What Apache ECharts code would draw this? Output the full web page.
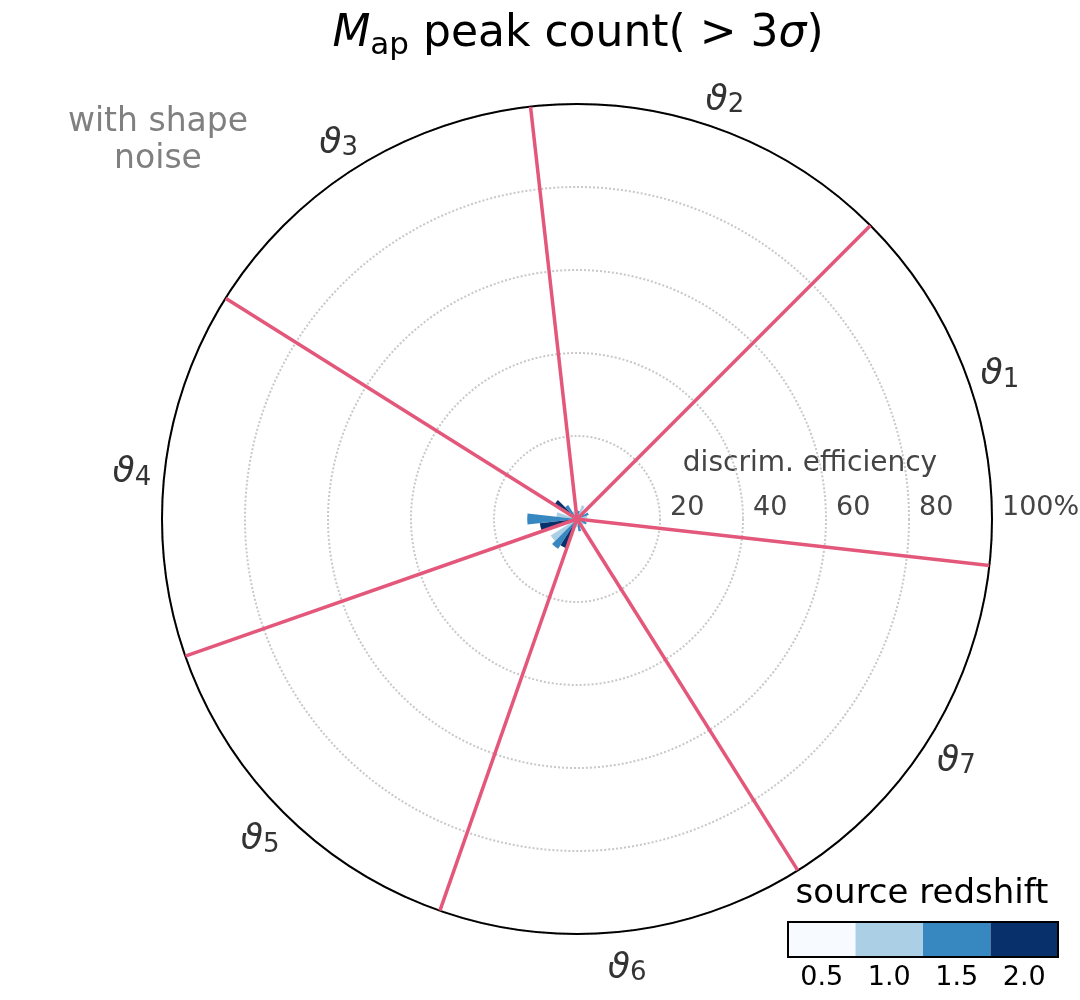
<!DOCTYPE html>
<html>
<head>
<meta charset="utf-8">
<script src="https://cdn.jsdelivr.net/npm/echarts@6/dist/echarts.min.js"></script>
<style>
html, body { margin: 0; padding: 0; background: #fff; }
#main { width: 1080px; height: 1000px; }
</style>
</head>
<body>
<div id="main"></div>
<script>
const thetaLabels = ['1', '2', '3', '4', '5', '6', '7'];
const redshifts = ['0.5', '1.0', '1.5', '2.0'];
const redshiftColors = ['#f7fbff', '#abd0e6', '#3787c0', '#08306b'];
// discrimination efficiency (%) for each theta bin, one array per source redshift
const effZ05 = [1, 1, 1, 1.5, 1.5, 1, 1];
const effZ10 = [2.5, 3.5, 2, 5, 7.5, 2, 2];
const effZ15 = [3, 2, 4, 12, 8.5, 3, 2.5];
const effZ20 = [2, 1.5, 6.5, 9, 7.5, 2, 2];
// red reference lines (angle in degrees, length in %)
const refAngles = [353.57, 45, 96.43, 147.86, 199.29, 250.71, 302.14];
const refValues = [100, 100, 100, 100, 100, 100, 100];
// theta labels sit just outside the frame (% of the label ring)
const labelRadius = [100, 100, 100, 100, 100, 100, 100];
const colorbarValues = [1, 1, 1, 1];

const FONT = 'DejaVu Sans';
const C = [577, 519];
const R = 415;
const R_LABEL = 448;
const START = 353.57;

const effByZ = [effZ05, effZ10, effZ15, effZ20];
const barCats = [];
const barData = [];
thetaLabels.forEach((t, i) => {
  redshifts.forEach((z, j) => {
    barCats.push(t + '_' + z);
    barData.push({ value: effByZ[j][i], itemStyle: { color: redshiftColors[j] } });
  });
});

const hiddenAngle = (idx, type, data) => ({
  polarIndex: idx, type: type, data: data, startAngle: START, clockwise: false,
  axisLine: { show: false }, axisTick: { show: false }, axisLabel: { show: false }, splitLine: { show: false }
});

const chart = echarts.init(document.getElementById('main'));
chart.setOption({
  backgroundColor: '#fff',
  animation: false,
  textStyle: { fontFamily: FONT },
  polar: [
    { center: C, radius: R },
    { center: C, radius: R },
    { center: C, radius: R_LABEL }
  ],
  angleAxis: [
    {
      polarIndex: 0, type: 'value', min: 0, max: 360, startAngle: 0, clockwise: false,
      axisLine: { lineStyle: { color: '#000', width: 2 } },
      axisTick: { show: false }, axisLabel: { show: false }, splitLine: { show: false }
    },
    hiddenAngle(1, 'category', barCats),
    hiddenAngle(2, 'category', thetaLabels)
  ],
  radiusAxis: [
    {
      polarIndex: 0, type: 'value', min: 0, max: 100, interval: 20,
      axisLine: { show: false }, axisTick: { show: false },
      axisLabel: {
        fontSize: 27, color: '#444', fontFamily: FONT, align: 'left', margin: -2, padding: [0, 0, 0, 10],
        formatter: v => (v === 0 ? '' : (v === 100 ? '100%' : String(v)))
      },
      splitLine: { lineStyle: { color: '#c8c8c8', type: 'dotted', width: 2 } }
    },
    { polarIndex: 1, type: 'value', min: 0, max: 100, show: false },
    { polarIndex: 2, type: 'value', min: 0, max: 100, show: false }
  ],
  grid: {
    left: 788, top: 922, width: 270, height: 35, show: true, z: 3,
    borderColor: '#000', borderWidth: 2, backgroundColor: 'transparent'
  },
  xAxis: {
    type: 'category', data: redshifts,
    axisLine: { show: false }, axisTick: { show: false }, splitLine: { show: false },
    axisLabel: { fontSize: 27, color: '#000', fontFamily: FONT, margin: 7 }
  },
  yAxis: { type: 'value', min: 0, max: 1, show: false },
  graphic: [
    {
      type: 'text', x: 578, y: 46,
      style: {
        text: '{m|M}{s|ap}{n| peak count( > 3}{m|σ}{n|)}',
        align: 'center', verticalAlign: 'middle', fill: '#000',
        rich: {
          m: { fontSize: 44, fontStyle: 'italic', fontFamily: FONT, fill: '#000', lineHeight: 50, verticalAlign: 'top' },
          s: { fontSize: 31, fontFamily: FONT, fill: '#000', lineHeight: 67 },
          n: { fontSize: 44, fontFamily: FONT, fill: '#000', lineHeight: 50, verticalAlign: 'top' }
        }
      }
    },
    {
      type: 'text', x: 158, y: 141,
      style: {
        text: 'with shape\nnoise', align: 'center', verticalAlign: 'middle',
        fontSize: 33, lineHeight: 37, fontFamily: FONT, fill: '#808080'
      }
    },
    {
      type: 'text', x: 810, y: 464,
      style: {
        text: 'discrim. efficiency', align: 'center', verticalAlign: 'middle',
        fontSize: 28, fontFamily: FONT, fill: '#444'
      }
    },
    {
      type: 'text', x: 922, y: 894,
      style: {
        text: 'source redshift', align: 'center', verticalAlign: 'middle',
        fontSize: 34, fontFamily: FONT, fill: '#000'
      }
    }
  ],
  series: [
    {
      type: 'bar', coordinateSystem: 'polar', polarIndex: 1,
      data: barData, barCategoryGap: '0%', z: 2, silent: true
    },
    ...refAngles.map((a, i) => ({
      type: 'line', coordinateSystem: 'polar', polarIndex: 0,
      data: [[0, a], [refValues[i], a]],
      symbol: 'none', silent: true, z: 4,
      lineStyle: { color: '#e3587a', width: 3.5 }
    })),
    {
      // theta labels
      type: 'scatter', coordinateSystem: 'polar', polarIndex: 2, silent: true,
      data: thetaLabels.map((t, i) => [labelRadius[i], i]),
      symbolSize: 0, itemStyle: { color: '#000' },
      label: {
        show: true, position: 'inside', offset: [0, 6], color: '#000',
        formatter: p => '{t|ϑ}{s|' + thetaLabels[p.dataIndex] + '}',
        rich: {
          t: { fontSize: 36, fontStyle: 'italic', fontFamily: FONT, color: '#000', lineHeight: 40, verticalAlign: 'top' },
          s: { fontSize: 26, fontFamily: FONT, color: '#000', lineHeight: 40, verticalAlign: 'top', padding: [10, 0, 0, 0] }
        }
      }
    },
    {
      type: 'bar', xAxisIndex: 0, yAxisIndex: 0,
      data: colorbarValues.map((v, i) => ({ value: v, itemStyle: { color: redshiftColors[i] } })),
      barCategoryGap: '0%', z: 1, silent: true
    }
  ]
});
</script>
</body>
</html>
